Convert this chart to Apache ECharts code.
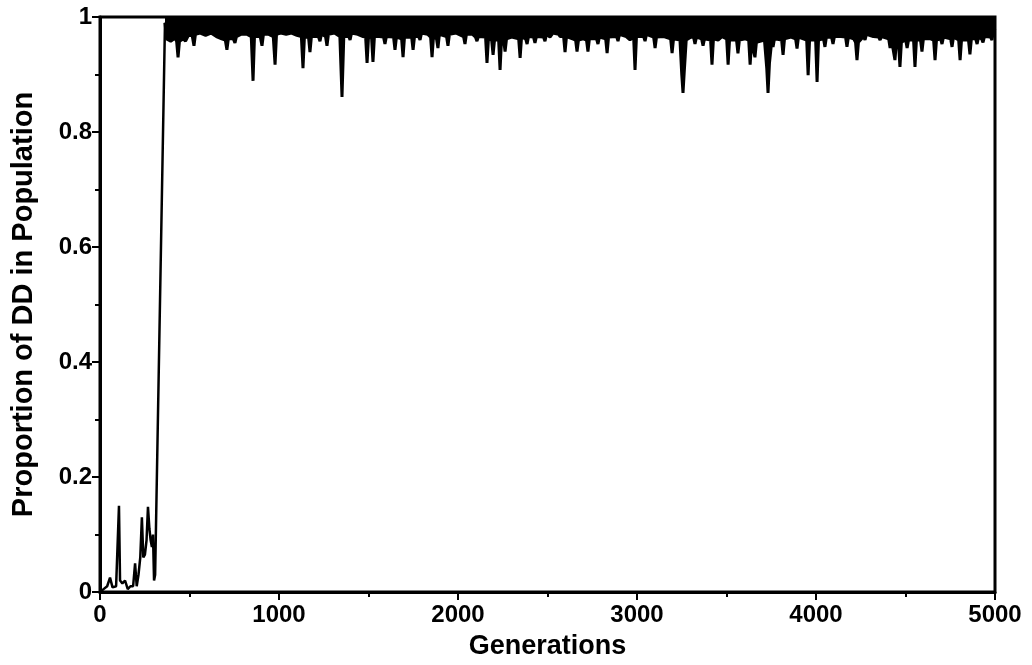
<!DOCTYPE html>
<html>
<head>
<meta charset="utf-8">
<script src="https://cdn.jsdelivr.net/npm/echarts@6/dist/echarts.min.js"></script>
<style>
html,body{margin:0;padding:0;background:#fff;}
#c{width:1032px;height:665px;}
</style>
</head>
<body>
<div id="c"></div>
<script>
// Early phase (generations 0..363): proportion stays near 0
var earlyGens = [0,20,40,56,70,90,100,106,112,125,140,155,170,185,196,205,215,225,234,242,251,260,268,276,283,290,296,302,308,363];
var earlyProps = [0,0.005,0.01,0.025,0.008,0.01,0.01,0.15,0.02,0.015,0.02,0.005,0.01,0.01,0.05,0.01,0.03,0.06,0.13,0.06,0.065,0.09,0.148,0.11,0.09,0.078,0.1,0.02,0.03,0.99];

// Late phase (generations 363..5000): near fixation with downward dips
var lateGens = [363,372,395,418,428,436,444,465,478,486,494,515,525,533,560,590,620,650,680,700,709,717,745,754,762,790,820,845,855,863,895,905,913,940,968,978,986,1010,1040,1070,1100,1125,1134,1142,1165,1173,1181,1220,1229,1237,1260,1268,1276,1310,1340,1352,1362,1390,1397,1405,1440,1470,1484,1492,1500,1517,1525,1533,1560,1584,1592,1600,1640,1648,1656,1685,1693,1701,1741,1749,1757,1780,1788,1796,1830,1847,1855,1863,1880,1888,1896,1936,1944,1952,1990,2031,2039,2047,2080,2098,2106,2114,2154,2162,2170,2188,2196,2204,2227,2235,2243,2255,2263,2271,2300,2339,2347,2355,2378,2386,2394,2422,2430,2438,2478,2486,2494,2514,2530,2562,2570,2590,2598,2606,2640,2657,2665,2673,2700,2718,2726,2734,2774,2782,2790,2825,2833,2841,2886,2894,2902,2940,2961,2981,2989,2997,3037,3045,3053,3093,3101,3109,3150,3188,3196,3204,3240,3250,3257,3264,3275,3300,3316,3324,3332,3361,3369,3377,3411,3419,3427,3453,3475,3501,3509,3517,3556,3564,3572,3605,3624,3632,3640,3651,3659,3667,3712,3725,3732,3740,3752,3760,3768,3808,3816,3824,3860,3886,3894,3902,3948,3956,3964,3998,4006,4014,4042,4050,4058,4087,4095,4103,4140,4165,4173,4181,4210,4221,4229,4237,4266,4274,4282,4320,4350,4358,4366,4406,4414,4422,4433,4441,4449,4461,4469,4477,4501,4509,4517,4545,4553,4561,4584,4592,4600,4640,4657,4665,4673,4696,4704,4712,4752,4760,4768,4797,4805,4813,4852,4860,4868,4892,4900,4908,4925,4933,4941,4975,4983,4991,5000];
var lateProps = [0.99,0.962,0.958,0.963,0.958,0.93,0.958,0.962,0.958,0.955,0.968,0.968,0.95,0.97,0.972,0.968,0.972,0.966,0.962,0.96,0.943,0.962,0.962,0.955,0.966,0.97,0.97,0.966,0.889,0.966,0.966,0.95,0.97,0.97,0.966,0.917,0.97,0.972,0.97,0.972,0.968,0.966,0.911,0.965,0.965,0.939,0.966,0.966,0.958,0.97,0.966,0.95,0.97,0.972,0.966,0.861,0.966,0.966,0.96,0.972,0.97,0.966,0.965,0.92,0.965,0.965,0.922,0.966,0.966,0.965,0.953,0.966,0.965,0.943,0.965,0.962,0.93,0.965,0.965,0.943,0.966,0.966,0.96,0.972,0.97,0.965,0.93,0.966,0.962,0.946,0.97,0.966,0.95,0.97,0.972,0.966,0.953,0.97,0.97,0.965,0.958,0.966,0.965,0.92,0.962,0.96,0.934,0.96,0.96,0.908,0.96,0.96,0.94,0.962,0.965,0.962,0.929,0.965,0.962,0.953,0.966,0.965,0.955,0.966,0.965,0.958,0.97,0.965,0.972,0.97,0.966,0.966,0.939,0.966,0.962,0.96,0.94,0.96,0.962,0.96,0.94,0.962,0.962,0.953,0.965,0.962,0.937,0.965,0.966,0.958,0.97,0.966,0.96,0.966,0.908,0.966,0.966,0.958,0.97,0.965,0.946,0.965,0.966,0.962,0.937,0.962,0.96,0.9,0.868,0.905,0.96,0.965,0.965,0.953,0.965,0.962,0.95,0.962,0.96,0.917,0.962,0.96,0.966,0.962,0.917,0.96,0.96,0.937,0.96,0.962,0.96,0.917,0.956,0.956,0.93,0.956,0.96,0.91,0.868,0.92,0.956,0.948,0.962,0.96,0.934,0.962,0.965,0.962,0.945,0.965,0.96,0.899,0.96,0.96,0.887,0.96,0.962,0.948,0.965,0.965,0.953,0.966,0.966,0.965,0.948,0.965,0.962,0.956,0.925,0.956,0.966,0.96,0.97,0.966,0.965,0.96,0.966,0.962,0.946,0.96,0.96,0.925,0.956,0.956,0.913,0.956,0.96,0.946,0.96,0.96,0.913,0.96,0.96,0.94,0.962,0.962,0.96,0.925,0.96,0.962,0.953,0.965,0.962,0.948,0.965,0.96,0.925,0.96,0.96,0.935,0.962,0.962,0.953,0.965,0.962,0.956,0.966,0.965,0.96,0.975,0.98];

var xTicks = [0,1000,2000,3000,4000,5000];
var yTicks = [0,0.2,0.4,0.6,0.8,1];

function pairs(g, v){ var out=[]; for (var i=0;i<g.length;i++) out.push([g[i], v[i]]); return out; }

var FONT = '"Liberation Sans", Arial, sans-serif';
var chart = echarts.init(document.getElementById('c'), null, {renderer:'canvas'});
chart.setOption({
  animation: false,
  backgroundColor: '#fff',
  grid: {left:100, right:37, top:17, bottom:73, show:true, borderColor:'#000', borderWidth:3, backgroundColor:'transparent'},
  xAxis: {
    type:'value', min:xTicks[0], max:xTicks[xTicks.length-1], interval:1000,
    name:'Generations', nameLocation:'middle', nameGap:41,
    nameTextStyle:{fontFamily:FONT, fontWeight:'bold', fontSize:27, color:'#000'},
    axisLine:{show:true, lineStyle:{color:'#000', width:3}},
    axisTick:{show:true, inside:false, length:8, lineStyle:{color:'#000', width:2}},
    minorTick:{show:true, splitNumber:2, length:5, lineStyle:{color:'#000', width:2}},
    splitLine:{show:false},
    axisLabel:{margin:11, fontFamily:FONT, fontWeight:'bold', fontSize:24, color:'#000',
      formatter:function(v){ return String(v); }}
  },
  yAxis: {
    type:'value', min:yTicks[0], max:yTicks[yTicks.length-1], interval:0.2,
    name:'Proportion of DD in Population', nameLocation:'middle', nameGap:62,
    nameTextStyle:{fontFamily:FONT, fontWeight:'bold', fontSize:29, color:'#000'},
    axisLine:{show:true, lineStyle:{color:'#000', width:3}},
    axisTick:{show:true, inside:false, length:8, lineStyle:{color:'#000', width:2}},
    minorTick:{show:true, splitNumber:2, length:5, lineStyle:{color:'#000', width:2}},
    splitLine:{show:false},
    axisLabel:{margin:8, fontFamily:FONT, fontWeight:'bold', fontSize:24, color:'#000'}
  },
  series: [
    {type:'line', data:pairs(earlyGens, earlyProps), symbol:'none', lineStyle:{color:'#000', width:2.5}},
    {type:'line', data:pairs(lateGens, lateProps), symbol:'none', lineStyle:{color:'#000', width:3},
     areaStyle:{origin:'end', color:'#000', opacity:1}}
  ]
});
</script>
</body>
</html>
